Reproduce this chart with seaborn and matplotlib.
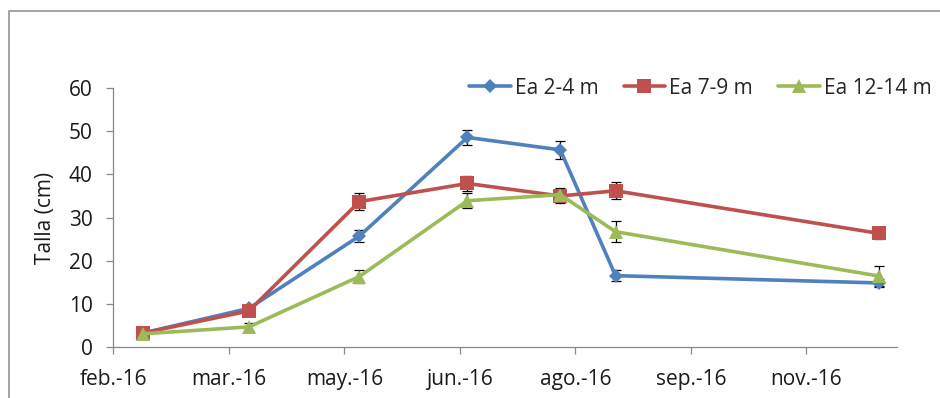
import matplotlib
matplotlib.use("Agg")
import matplotlib.pyplot as plt
import matplotlib.patches as mpatches
import seaborn as sns
import pandas as pd

# Sampling dates and mean size (cm) with standard error per depth stratum
fechas = ["2016-02-13", "2016-03-26", "2016-05-09", "2016-06-21",
          "2016-07-28", "2016-08-19", "2016-12-02"]
ea_2_4 = [3.2, 8.9, 25.7, 48.6, 45.7, 16.5, 14.8]
ea_2_4_err = [0.3, 0.4, 1.3, 1.7, 2.1, 1.2, 1.0]
ea_7_9 = [3.2, 8.3, 33.7, 37.9, 35.0, 36.2, 26.3]
ea_7_9_err = [0.3, 0.4, 1.9, 1.8, 1.6, 2.0, 1.3]
ea_12_14 = [3.0, 4.6, 16.3, 33.9, 35.3, 26.7, 16.4]
ea_12_14_err = [0.3, 0.9, 1.4, 1.7, 1.5, 2.4, 2.4]

series = ["Ea 2-4 m", "Ea 7-9 m", "Ea 12-14 m"]
tick_fechas = ["2016-02-01", "2016-03-18", "2016-05-03", "2016-06-18",
               "2016-08-03", "2016-09-18", "2016-11-03"]
tick_labels = ["feb.-16", "mar.-16", "may.-16", "jun.-16",
               "ago.-16", "sep.-16", "nov.-16"]
x_limits = ["2016-02-01", "2016-12-09"]

sns.set_theme(style="white")
plt.rcParams["font.family"] = ["Open Sans", "DejaVu Sans"]
fs = 15

fig = plt.figure(figsize=(9.40, 3.98), dpi=100)
ax = fig.add_axes([0.1206, 0.1289, 0.8334, 0.6492])

x = pd.to_datetime(fechas)
estilos = [
    dict(color="#4F81BD", marker="D", markersize=6.8),
    dict(color="#C0504D", marker="s", markersize=9.5),
    dict(color="#9BBB59", marker="^", markersize=10.0),
]
valores = [ea_2_4, ea_7_9, ea_12_14]
errores = [ea_2_4_err, ea_7_9_err, ea_12_14_err]

for nombre, vals, errs, st in zip(series, valores, errores, estilos):
    ax.errorbar(x, vals, yerr=errs, fmt="none", ecolor="black",
                elinewidth=0.9, capsize=3.6, capthick=0.9, zorder=1.5)
    sns.lineplot(x=x, y=vals, ax=ax, label=nombre, linewidth=2.6,
                 markeredgewidth=0, errorbar=None, zorder=2, **st)

ax.set_ylim(0, 60)
ax.set_yticks(range(0, 61, 10))
ax.set_xlim(pd.to_datetime(x_limits[0]), pd.to_datetime(x_limits[1]))
ax.set_xticks(pd.to_datetime(tick_fechas))
ax.set_xticklabels(tick_labels)
ax.set_xlabel("")
ax.set_ylabel("Talla (cm)", fontsize=fs, color="#1a1a1a", labelpad=9)

for side in ["top", "right"]:
    ax.spines[side].set_visible(False)
for side in ["left", "bottom"]:
    ax.spines[side].set_color("#888888")
    ax.spines[side].set_linewidth(0.9)
ax.tick_params(axis="both", which="major", direction="out", length=5,
               width=0.9, color="#888888", labelsize=fs,
               labelcolor="#1a1a1a", left=True, bottom=True)
ax.tick_params(axis="y", pad=10)
ax.tick_params(axis="x", pad=11)
ax.grid(False)

ax.get_legend().remove()
handles, labels = ax.get_legend_handles_labels()
fig.legend(handles, labels, loc="center right", ncol=3, frameon=False,
           bbox_to_anchor=(0.991, 1 - 88 / 398), fontsize=fs,
           handlelength=2.0, handletextpad=0.2, columnspacing=1.2,
           borderpad=0, borderaxespad=0)

# Chart-area border, open towards the right and bottom edges
borde = mpatches.Rectangle((8.5 / 940, -0.2), 1.2, 0.2 + (398 - 10.5) / 398,
                           transform=fig.transFigure, fill=False,
                           edgecolor="#8c8c8c", linewidth=1.1, clip_on=False)
fig.patches.append(borde)

fig.savefig("out.png", dpi=100)
